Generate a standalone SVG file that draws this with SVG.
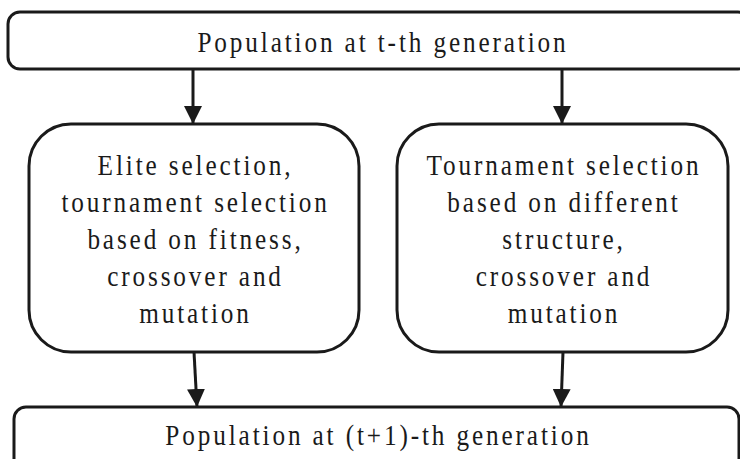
<svg xmlns="http://www.w3.org/2000/svg" width="740" height="459" viewBox="0 0 740 459">
  <style>
    .box { fill: #ffffff; stroke: #1a1a1a; stroke-width: 3; }
    .lbl { font-family: "Liberation Serif", "Times New Roman", serif; font-size: 29px; fill: #1a1a1a; text-anchor: middle; letter-spacing: 3.3px; }
    .edge { stroke: #1a1a1a; stroke-width: 3; fill: none; marker-end: url(#arrow); }
  </style>
  <defs>
    <marker id="arrow" viewBox="0 0 18 18" refX="18" refY="9" markerWidth="18" markerHeight="18" markerUnits="userSpaceOnUse" orient="auto">
      <path d="M0,0 L18,9 L0,18 Z" fill="#1a1a1a"/>
    </marker>
  </defs>
  <rect width="740" height="459" fill="#ffffff"/>

  <g id="connectors">
    <line class="edge" x1="193" y1="69" x2="193" y2="124"/>
    <line class="edge" x1="562" y1="69" x2="562" y2="124"/>
    <line class="edge" x1="194" y1="352" x2="197" y2="407"/>
    <line class="edge" x1="563" y1="352" x2="561" y2="407"/>
  </g>

  <!-- labels use a narrow, widely spaced serif: each text is squeezed horizontally about its centre -->
  <g id="pop-t">
    <rect class="box" x="8" y="12" width="742" height="57" rx="12"/>
    <text class="lbl" transform="matrix(0.87 0 0 1 383 0)" x="0" y="52">Population at t-th generation</text>
  </g>

  <g id="elite-branch">
    <rect class="box" x="29" y="124" width="330" height="228" rx="42"/>
    <text class="lbl" transform="matrix(0.87 0 0 1 195.5 0)" x="0" y="175">Elite selection,</text>
    <text class="lbl" transform="matrix(0.87 0 0 1 195.5 0)" x="0" y="212">tournament selection</text>
    <text class="lbl" transform="matrix(0.87 0 0 1 195.5 0)" x="0" y="249">based on fitness,</text>
    <text class="lbl" transform="matrix(0.87 0 0 1 195.5 0)" x="0" y="286">crossover and</text>
    <text class="lbl" transform="matrix(0.87 0 0 1 195.5 0)" x="0" y="323">mutation</text>
  </g>

  <g id="structure-branch">
    <rect class="box" x="397" y="124" width="331" height="228" rx="42"/>
    <text class="lbl" transform="matrix(0.87 0 0 1 564 0)" x="0" y="175">Tournament selection</text>
    <text class="lbl" transform="matrix(0.87 0 0 1 564 0)" x="0" y="212">based on different</text>
    <text class="lbl" transform="matrix(0.87 0 0 1 564 0)" x="0" y="249">structure,</text>
    <text class="lbl" transform="matrix(0.87 0 0 1 564 0)" x="0" y="286">crossover and</text>
    <text class="lbl" transform="matrix(0.87 0 0 1 564 0)" x="0" y="323">mutation</text>
  </g>

  <g id="pop-t1">
    <rect class="box" x="14" y="407" width="725" height="70" rx="12"/>
    <text class="lbl" transform="matrix(0.87 0 0 1 378.5 0)" x="0" y="445">Population at (t+1)-th generation</text>
  </g>
</svg>
